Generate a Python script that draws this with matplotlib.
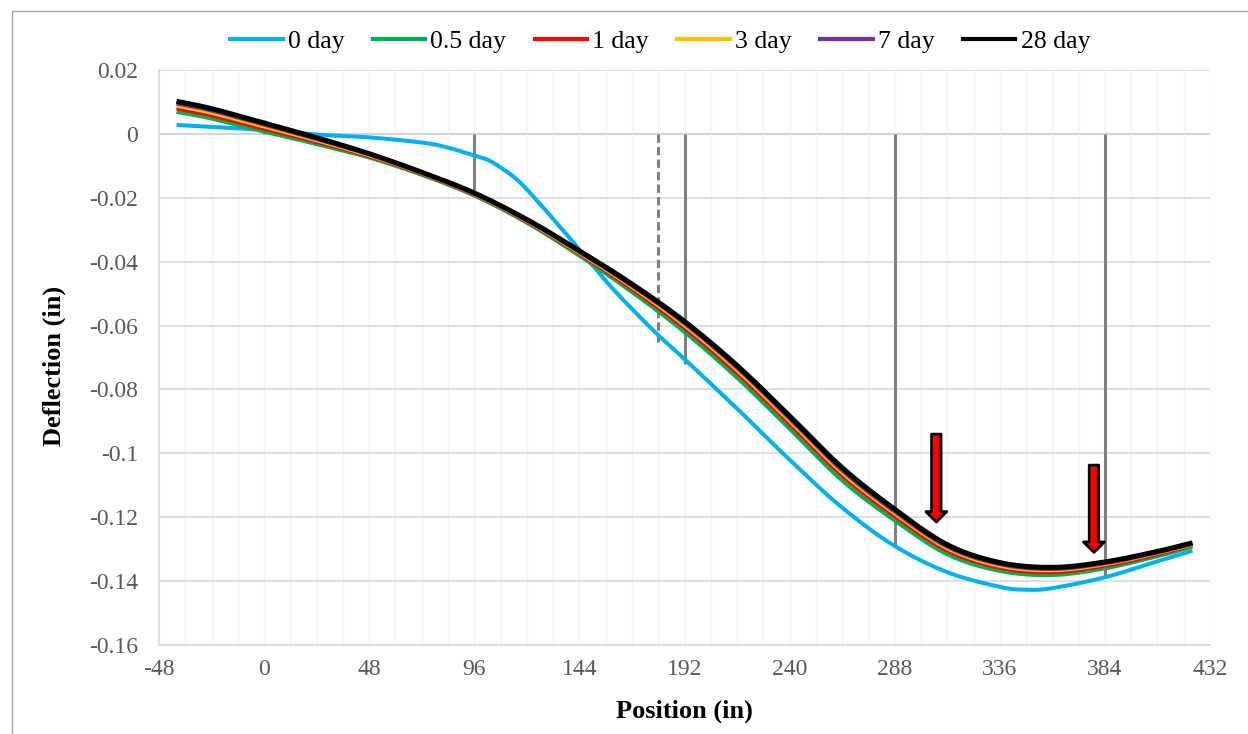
import numpy as np
import matplotlib
matplotlib.use("Agg")
import matplotlib.pyplot as plt
from matplotlib.patches import Rectangle

# ---------------- data ----------------
x_pos = [-40, -24, 0, 24, 48, 72, 96, 120, 144, 168, 192, 216, 240, 264, 288, 312, 336, 360, 384, 408, 424]
d_28 = [0.0102, 0.0079, 0.0034, -0.0012, -0.0062, -0.0120, -0.0185, -0.0268, -0.0366, -0.0470, -0.0587,
        -0.0725, -0.0883, -0.1045, -0.1175, -0.1286, -0.1342, -0.1357, -0.1340, -0.1307, -0.1280]
d_7 = [0.0095, 0.0073, 0.0029, -0.0016, -0.0064, -0.0121, -0.0186, -0.0270, -0.0369, -0.0475, -0.0593,
       -0.0732, -0.0891, -0.1053, -0.1182, -0.1292, -0.1347, -0.1362, -0.1344, -0.1310, -0.1283]
d_3 = [0.0088, 0.0066, 0.0023, -0.0020, -0.0067, -0.0123, -0.0188, -0.0272, -0.0372, -0.0479, -0.0599,
       -0.0739, -0.0898, -0.1060, -0.1188, -0.1297, -0.1352, -0.1366, -0.1347, -0.1312, -0.1285]
d_1 = [0.0080, 0.0058, 0.0016, -0.0025, -0.0070, -0.0125, -0.0190, -0.0274, -0.0375, -0.0485, -0.0607,
       -0.0748, -0.0907, -0.1069, -0.1196, -0.1304, -0.1358, -0.1372, -0.1352, -0.1316, -0.1287]
d_05 = [0.0069, 0.0048, 0.0007, -0.0032, -0.0074, -0.0128, -0.0193, -0.0278, -0.0381, -0.0495, -0.0620,
        -0.0763, -0.0923, -0.1085, -0.1210, -0.1316, -0.1368, -0.1381, -0.1360, -0.1322, -0.1292]

x_pos0 = [-40, -24, 0, 24, 48, 72, 84, 96, 102, 108, 116, 124, 132, 144, 156, 168, 180, 192, 216, 240, 264,
          288, 312, 336, 348, 360, 384, 408, 424]
d_0 = [0.0028, 0.0022, 0.0012, -0.0002, -0.0011, -0.0027, -0.0043, -0.0068, -0.0081, -0.0105, -0.0146,
       -0.0204, -0.0266, -0.0362, -0.0460, -0.0548, -0.0630, -0.0705, -0.0860, -0.1020, -0.1170, -0.1290,
       -0.1372, -0.1418, -0.1427, -0.1422, -0.1388, -0.1338, -0.1305]

series_labels = ["0 day", "0.5 day", "1 day", "3 day", "7 day", "28 day"]
series_colors = ["#00B0F0", "#00B050", "#FF0000", "#FFC000", "#7030A0", "#000000"]

support_x = [0, 96, 180, 192, 288, 384]
support_top = [0.0045, 0, 0, 0, 0, 0]
support_bot = [0.0, -0.0175, -0.0653, -0.0720, -0.1290, -0.1390]
support_dashed = [False, False, True, False, False, False]

arrow_x = [307, 379]
arrow_top = [-0.0940, -0.1037]
arrow_tip = [-0.1215, -0.1310]

x_ticks = [-48, 0, 48, 96, 144, 192, 240, 288, 336, 384, 432]
x_tick_labels = ["-48", "0", "48", "96", "144", "192", "240", "288", "336", "384", "432"]
y_ticks = [0.02, 0, -0.02, -0.04, -0.06, -0.08, -0.1, -0.12, -0.14, -0.16]
y_tick_labels = ["0.02", "0", "-0.02", "-0.04", "-0.06", "-0.08", "-0.1", "-0.12", "-0.14", "-0.16"]


def smooth(xs, ys, n=20):
    """Catmull-Rom smoothing (like Excel smoothed lines)."""
    xs = np.asarray(xs, float)
    ys = np.asarray(ys, float)
    P = np.column_stack([xs, ys])
    P = np.vstack([2 * P[0] - P[1], P, 2 * P[-1] - P[-2]])
    out = []
    t = np.linspace(0, 1, n, endpoint=False)[:, None]
    for i in range(1, len(P) - 2):
        p0, p1, p2, p3 = P[i - 1], P[i], P[i + 1], P[i + 2]
        seg = 0.5 * ((2 * p1) + (-p0 + p2) * t + (2 * p0 - 5 * p1 + 4 * p2 - p3) * t ** 2
                     + (-p0 + 3 * p1 - 3 * p2 + p3) * t ** 3)
        out.append(seg)
    out.append(P[-2][None, :])
    out = np.vstack(out)
    return out[:, 0], out[:, 1]


plt.rcParams['font.family'] = ['Liberation Serif', 'DejaVu Serif']

W, H = 1248, 734
fig = plt.figure(figsize=(W / 100, H / 100), dpi=100)
ax = fig.add_axes([159 / W, 1 - 645 / H, (1210 - 159) / W, (645 - 70) / H])

# chart border
fig.patches.append(Rectangle((12 / W, -0.1), 1.2, 1 - 11 / H + 0.1, transform=fig.transFigure,
                             fill=False, ec="#A6A6A6", lw=1.0))

ax.set_xlim(-48, 432)
ax.set_ylim(-0.16, 0.02)
ax.set_xticks(x_ticks)
ax.set_xticklabels(x_tick_labels)
ax.set_xticks(np.arange(-48, 433, 12), minor=True)
ax.set_yticks(y_ticks)
ax.set_yticklabels(y_tick_labels)
ax.tick_params(axis='both', which='both', length=0, labelsize=17, labelcolor="#595959")
ax.tick_params(axis='x', pad=10)
ax.tick_params(axis='y', pad=15)

ax.grid(which='minor', axis='x', color="#F2F2F2", lw=1.0, zorder=0)
ax.grid(which='major', axis='x', color="#F2F2F2", lw=1.0, zorder=0)
ax.grid(which='major', axis='y', color="#D9D9D9", lw=1.2, zorder=0)
ax.axhline(0, color="#BFBFBF", lw=1.5, zorder=1)
for s in ['top', 'right']:
    ax.spines[s].set_visible(False)
for s in ['left', 'bottom']:
    ax.spines[s].set_color("#D9D9D9")
    ax.spines[s].set_linewidth(1.2)

# supports
for sx, st, sb, dsh in zip(support_x, support_top, support_bot, support_dashed):
    ax.plot([sx, sx], [st, sb], color="#808080", lw=2.2, ls=(0, (2.7, 1.4)) if dsh else '-',
            zorder=2, solid_capstyle='butt')

# curves
all_y = [d_0, d_05, d_1, d_3, d_7, d_28]
all_x = [x_pos0, x_pos, x_pos, x_pos, x_pos, x_pos]
widths = [2.9, 2.9, 2.9, 2.9, 2.9, 3.6]
handles = []
for xs, ys, lab, col, w in zip(all_x, all_y, series_labels, series_colors, widths):
    sx, sy = smooth(xs, ys)
    h, = ax.plot(sx, sy, color=col, lw=w, label=lab, zorder=3, solid_capstyle='butt')
    handles.append(h)

# arrows
for axx, at, ab in zip(arrow_x, arrow_top, arrow_tip):
    ax.annotate('', xy=(axx, ab), xytext=(axx, at),
                arrowprops=dict(arrowstyle='simple,head_width=1.5,head_length=0.75,tail_width=0.68',
                                fc='#FF0000', ec='black', lw=2.0, mutation_scale=10,
                                shrinkA=0, shrinkB=0),
                zorder=5)

fig.text(684.5 / W, 1 - 711 / H, "Position (in)", fontsize=19, fontweight='bold',
         ha='center', va='center')
fig.text(54 / W, 1 - 366 / H, "Deflection (in)", fontsize=19, fontweight='bold',
         ha='center', va='center', rotation=90)

leg_handles = [plt.Line2D([], [], color=c, lw=3.0) for c in series_colors]
fig.legend(handles=leg_handles, labels=series_labels, loc='center', bbox_to_anchor=(660 / W, 1 - 42 / H),
           ncol=6, frameon=False, fontsize=18.5, handlelength=2.05, handletextpad=0.2,
           columnspacing=1.1, borderpad=0)

fig.savefig("out.png", dpi=100)
